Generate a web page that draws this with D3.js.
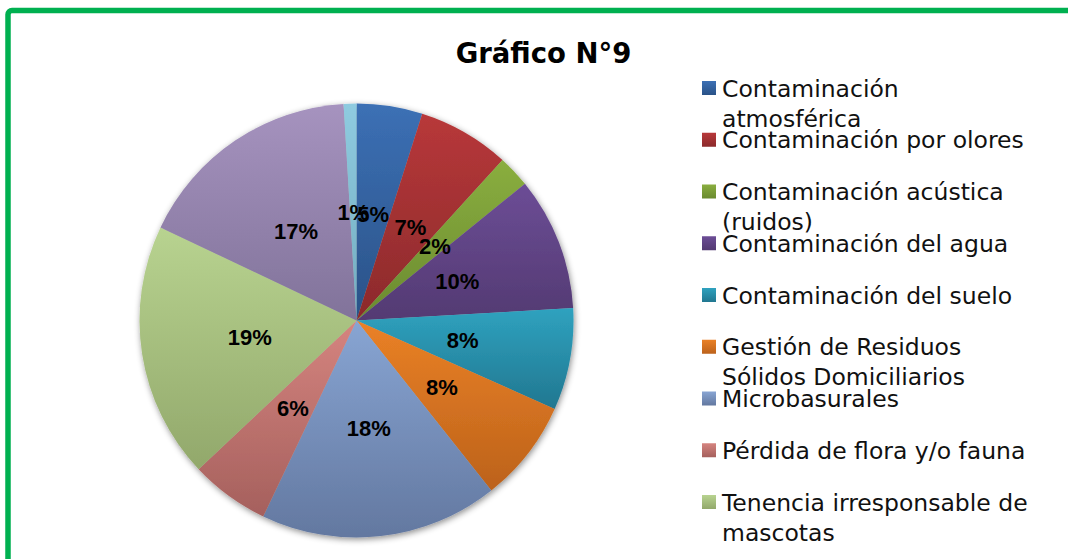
<!DOCTYPE html>
<html>
<head>
<meta charset="utf-8">
<script src="https://cdn.jsdelivr.net/npm/d3@7"></script>
<style>
  html, body { margin: 0; padding: 0; background: #fff; }
  svg { display: block; }
</style>
</head>
<body>
<svg id="chart" width="1068" height="559"></svg>
<script>
// ---- data ----
const title = "Gráfico N°9";
const categories = [
  "Contaminación atmosférica",
  "Contaminación por olores",
  "Contaminación acústica (ruidos)",
  "Contaminación del agua",
  "Contaminación del suelo",
  "Gestión de Residuos Sólidos Domiciliarios",
  "Microbasurales",
  "Pérdida de flora y/o fauna",
  "Tenencia irresponsable de mascotas",
  "Otros",
  "Otros (2)"
];
const values = [4.9, 6.85, 2.4, 9.95, 7.6, 7.65, 17.75, 5.9, 19.1, 17.0, 0.95];
const legendCount = 9; // entries that fit in the legend box
const colorsTop = ["#3c70b5", "#b8383a", "#8aae3f", "#6c4d96", "#2fa2bf", "#ea8126",
                   "#88a5d3", "#d5847f", "#b8d390", "#a693bf", "#8fcbe0"];
const colorsBottom = ["#2a5287", "#8b2a2b", "#6a8a30", "#533a72", "#217790", "#bc621b",
                      "#6378a0", "#a5605d", "#92a86b", "#81739a", "#73adc0"];

// ---- drawing ----
const svg = d3.select("#chart");
const defs = svg.append("defs");

values.forEach((v, i) => {
  const g = defs.append("linearGradient")
    .attr("id", "grad" + i)
    .attr("x1", 0).attr("y1", 0).attr("x2", 0).attr("y2", 1);
  g.append("stop").attr("offset", "0%").attr("stop-color", colorsTop[i]);
  g.append("stop").attr("offset", "100%").attr("stop-color", colorsBottom[i]);
});

const shadow = defs.append("filter").attr("id", "shadow")
  .attr("x", "-10%").attr("y", "-10%").attr("width", "120%").attr("height", "120%");
shadow.append("feDropShadow")
  .attr("dx", 1).attr("dy", 2).attr("stdDeviation", 3)
  .attr("flood-color", "#000").attr("flood-opacity", 0.45);

// green frame
svg.append("rect")
  .attr("x", 8).attr("y", 10.5)
  .attr("width", 1100).attr("height", 600)
  .attr("rx", 4)
  .attr("fill", "none")
  .attr("stroke", "#00b050")
  .attr("stroke-width", 5.5);

// title
svg.append("text")
  .attr("x", 543.5).attr("y", 62.5)
  .attr("text-anchor", "middle")
  .attr("font-family", "DejaVu Sans")
  .attr("font-weight", "bold")
  .attr("font-size", 27.5)
  .attr("fill", "#000")
  .text(title);

// pie
const cx = 356.5, cy = 320.5, R = 217;
const total = d3.sum(values);
const pie = d3.pie().sort(null).value(d => d)(values);
const arc = d3.arc().innerRadius(0).outerRadius(R);
const labelArc = d3.arc().innerRadius(108).outerRadius(108);
const fmt = d3.format(".0%");

const pg = svg.append("g").attr("transform", `translate(${cx},${cy})`);
pg.append("g").attr("filter", "url(#shadow)")
  .selectAll("path").data(pie).join("path")
  .attr("d", arc)
  .attr("fill", (d, i) => `url(#grad${i})`);

pg.selectAll("text.lbl").data(pie).join("text")
  .attr("class", "lbl")
  .attr("transform", d => `translate(${labelArc.centroid(d)})`)
  .attr("text-anchor", "middle")
  .attr("dy", "0.36em")
  .attr("font-family", "Liberation Sans")
  .attr("font-weight", "bold")
  .attr("font-size", 22)
  .attr("fill", "#000")
  .text(d => fmt(d.value / total));

// legend
const lx = 702, ly0 = 88, step = 51.75, lineH = 30, maxW = 320;
const lg = svg.append("g");
categories.slice(0, legendCount).forEach((name, i) => {
  const y = ly0 + i * step;
  lg.append("rect")
    .attr("x", lx).attr("y", y - 7)
    .attr("width", 14).attr("height", 14)
    .attr("fill", `url(#grad${i})`);
  const t = lg.append("text")
    .attr("x", lx + 20).attr("y", y + 8.5)
    .attr("font-family", "DejaVu Sans")
    .attr("font-size", 23.5)
    .attr("fill", "#111");
  // wrap words to maxW
  const words = name.split(" ");
  let line = [];
  let lineNo = 0;
  let tspan = t.append("tspan").attr("x", lx + 20).attr("dy", 0);
  words.forEach(w => {
    line.push(w);
    tspan.text(line.join(" "));
    if (tspan.node().getComputedTextLength() > maxW && line.length > 1) {
      line.pop();
      tspan.text(line.join(" "));
      line = [w];
      lineNo++;
      tspan = t.append("tspan").attr("x", lx + 20).attr("dy", lineH).text(w);
    }
  });
});
</script>
</body>
</html>
